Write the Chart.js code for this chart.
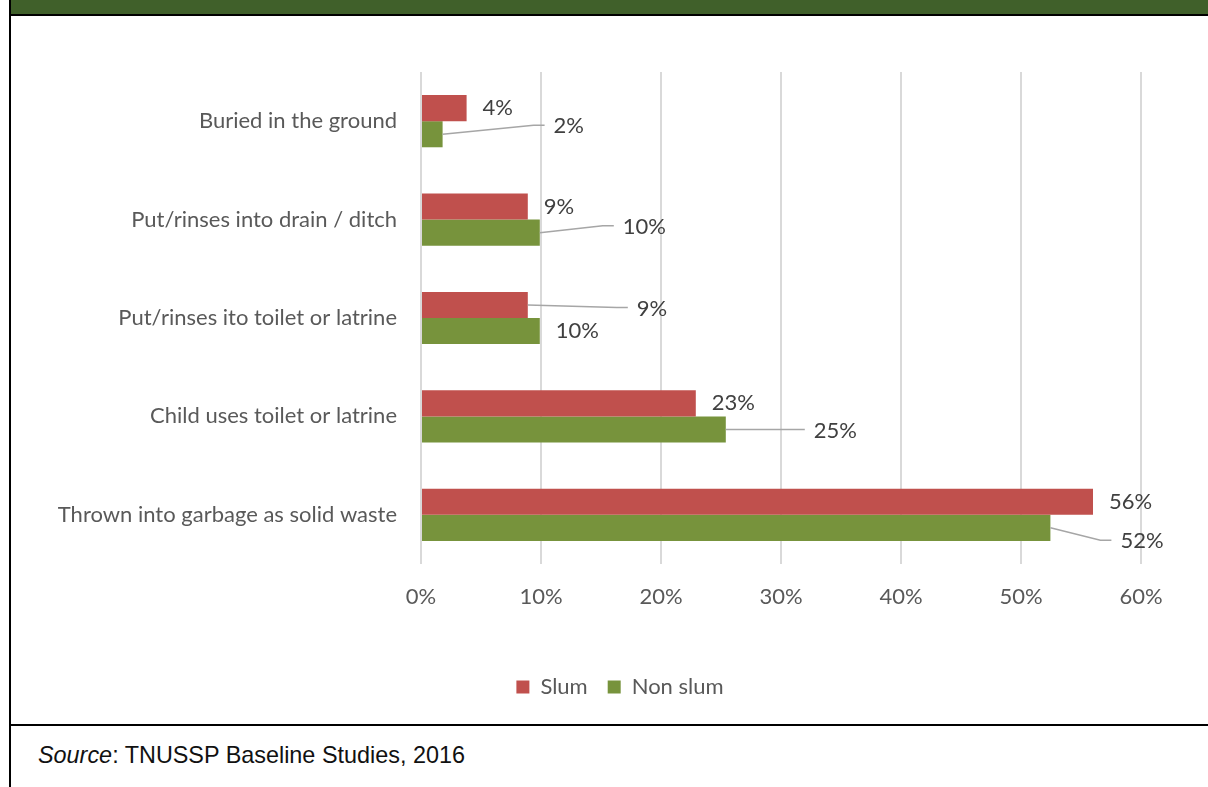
<!DOCTYPE html>
<html>
<head>
<meta charset="utf-8">
<script src="https://cdn.jsdelivr.net/npm/chart.js@4.4.1/dist/chart.umd.min.js"></script>
<style>
  body { margin: 0; background: #fff; width: 1208px; height: 787px; overflow: hidden; position: relative; font-family: 'Liberation Sans', Arial, sans-serif; }
  #band { position: absolute; left: 11px; top: 0; width: 1197px; height: 14px; background: #40602a; }
  #bandLine { position: absolute; left: 11px; top: 14px; width: 1197px; height: 2px; background: #000; }
  #leftLine { position: absolute; left: 9px; top: 0; width: 2px; height: 787px; background: #000; }
  #sep { position: absolute; left: 11px; top: 724px; width: 1197px; height: 2px; background: #000; }
  #source { position: absolute; left: 38px; top: 741px; font-size: 23.4px; line-height: 28px; color: #111; }
  canvas { position: absolute; left: 0; top: 0; }
</style>
</head>
<body>
<div id="band"></div>
<div id="bandLine"></div>
<div id="leftLine"></div>
<div id="sep"></div>
<div id="source"><i>Source</i>: TNUSSP Baseline Studies, 2016</div>
<canvas id="disposalChart" width="1208" height="787"></canvas>
<script>
const categories = [
    'Buried in the ground',
    'Put/rinses into drain / ditch',
    'Put/rinses ito toilet or latrine',
    'Child uses toilet or latrine',
    'Thrown into garbage as solid waste'
];
const slumValues = [3.8, 8.9, 8.9, 22.9, 56.0];
const nonSlumValues = [1.8, 9.9, 9.9, 25.4, 52.45];
const xMax = 60;
const xStep = 10;

// labels that Excel moved away from the bar end, drawn with a leader line
const labelShift = [
    [null, null, [93, 3.5], null, null],
    [[95, -8], [67, -6], null, [72, 1], [54, 13.5]]
];

const FONT = 'Lato, "Open Sans", sans-serif';

const barLabels = {
    id: 'barLabels',
    afterDatasetsDraw(chart) {
        const ctx = chart.ctx;
        ctx.save();
        ctx.font = '22px ' + FONT;
        ctx.fillStyle = '#404040';
        ctx.textBaseline = 'middle';
        ctx.textAlign = 'left';
        chart.data.datasets.forEach((ds, d) => {
            chart.getDatasetMeta(d).data.forEach((bar, i) => {
                const shift = labelShift[d][i];
                let lx = bar.x + 16, ly = bar.y;
                if (shift) {
                    lx += shift[0];
                    ly += shift[1];
                    ctx.strokeStyle = '#a6a6a6';
                    ctx.lineWidth = 1.5;
                    ctx.beginPath();
                    ctx.moveTo(bar.x, bar.y);
                    ctx.lineTo(lx - 20, ly - 1);
                    ctx.lineTo(lx - 9, ly - 1);
                    ctx.stroke();
                }
                ctx.fillText(Math.round(ds.data[i]) + '%', lx, ly);
            });
        });
        ctx.restore();
    }
};

// the legend sits centred under the whole frame, not under the plot
const legendShift = {
    id: 'legendShift',
    beforeDraw(chart) {
        if (chart.legend) chart.legend.left = 99;
    }
};

const ctx = document.getElementById('disposalChart').getContext('2d');
new Chart(ctx, {
    type: 'bar',
    data: {
        labels: categories,
        datasets: [{
            label: 'Slum',
            data: slumValues,
            backgroundColor: '#c0504d'
        }, {
            label: 'Non slum',
            data: nonSlumValues,
            backgroundColor: '#77933c'
        }]
    },
    options: {
        indexAxis: 'y',
        responsive: false,
        animation: false,
        layout: { padding: { left: 0, right: 67, top: 72, bottom: 79 } },
        datasets: { bar: { barPercentage: 1, categoryPercentage: 0.53 } },
        plugins: {
            legend: {
                position: 'bottom',
                labels: {
                    boxWidth: 13,
                    boxHeight: 13,
                    padding: 20,
                    color: '#595959',
                    font: { family: FONT, size: 22 }
                }
            },
            tooltip: { enabled: false }
        },
        scales: {
            x: {
                min: 0,
                max: xMax,
                ticks: {
                    stepSize: xStep,
                    padding: 20,
                    color: '#595959',
                    font: { family: FONT, size: 22 },
                    callback: v => v + '%'
                },
                grid: { color: '#d9d9d9', lineWidth: 2, drawTicks: false },
                border: { display: false },
                afterFit: scale => { scale.height = 92; }
            },
            y: {
                ticks: {
                    padding: 16,
                    color: '#595959',
                    font: { family: FONT, size: 22 }
                },
                grid: { display: false },
                border: { display: false },
                afterFit: scale => { scale.width = 421; }
            }
        }
    },
    plugins: [barLabels, legendShift]
});
</script>
</body>
</html>
